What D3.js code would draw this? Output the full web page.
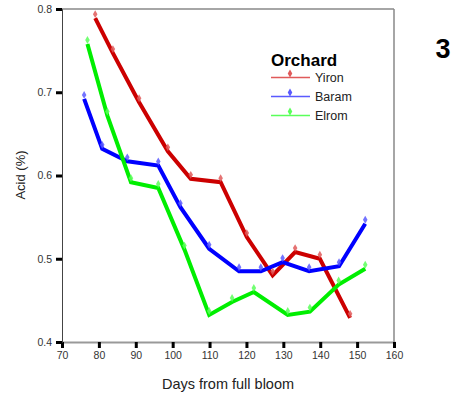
<!DOCTYPE html>
<html>
<head>
<meta charset="utf-8">
<script src="https://cdn.jsdelivr.net/npm/d3@7"></script>
<style>
  body { margin: 0; background: #fff; }
  svg { font-family: "Liberation Sans", Arial, sans-serif; }
</style>
</head>
<body>
<script>
// data
var series = ["Yiron", "Baram", "Elrom"];
var colors = ["#cc0000", "#0000ff", "#00ee00"];
var markColors = ["#e05a5a", "#5a5aff", "#5aff5a"];

var yironDays = [79, 83.8, 90.9, 98.7, 104.9, 113, 120.1, 127.1, 133.2, 139.9, 148.1];
var yironAcid = [0.789, 0.747, 0.688, 0.629, 0.596, 0.592, 0.526, 0.48, 0.508, 0.5, 0.429];

var baramDays = [76, 80.9, 87.7, 96.1, 102.1, 109.9, 118, 123.9, 129.8, 137, 145.1, 152.2];
var baramAcid = [0.692, 0.632, 0.617, 0.612, 0.562, 0.512, 0.485, 0.485, 0.496, 0.485, 0.491, 0.542];

var elromDays = [76.9, 82.3, 88.7, 96.1, 103.2, 109.9, 116.1, 122, 131.2, 137.2, 145, 152.2];
var elromAcid = [0.758, 0.672, 0.592, 0.585, 0.511, 0.4325, 0.448, 0.46, 0.4325, 0.4365, 0.469, 0.488];

var xTicks = [70, 80, 90, 100, 110, 120, 130, 140, 150, 160];
var yTicks = [0.4, 0.5, 0.6, 0.7, 0.8];

var width = 453, height = 396;
var margin = {left: 62, right: 59, top: 9, bottom: 54};
var w = width - margin.left - margin.right;
var h = height - margin.top - margin.bottom;

function zip(days, acid) {
    return days.map(function(d, i) { return {day: d, acid: acid[i]}; });
}
var data = [zip(yironDays, yironAcid), zip(baramDays, baramAcid), zip(elromDays, elromAcid)];

//SCALES
var xScale = d3.scaleLinear().domain([70, 160]).range([0, w]);
var yScale = d3.scaleLinear().domain([0.4, 0.8]).range([h, 0]);

var svg = d3.select("body").append("svg")
    .attr("width", width)
    .attr("height", height);

var chartGroup = svg.append("g").attr("transform", "translate(" + margin.left + "," + margin.top + ")");

// frame on top and right
chartGroup.append("line").attr("x1", 0).attr("x2", w).attr("y1", 0).attr("y2", 0)
    .attr("stroke", "#888").attr("stroke-width", 1.5);
chartGroup.append("line").attr("x1", w).attr("x2", w).attr("y1", 0).attr("y2", h)
    .attr("stroke", "#888").attr("stroke-width", 1.5);

// axes
var xAxis = chartGroup.append("g")
    .attr("transform", "translate(0," + h + ")")
    .call(d3.axisBottom(xScale).tickValues(xTicks).tickSize(6).tickPadding(4));
xAxis.select(".domain").attr("stroke", "#999").attr("stroke-width", 2);

var yAxis = chartGroup.append("g")
    .call(d3.axisLeft(yScale).tickValues(yTicks).tickFormat(d3.format(".1f")).tickSize(6).tickPadding(4));
yAxis.select(".domain").attr("stroke", "#444").attr("stroke-width", 1);

chartGroup.selectAll(".tick line").attr("stroke", "#000").attr("stroke-width", 3);
chartGroup.selectAll(".tick text")
    .attr("fill", "#333")
    .style("font-size", "10.5px")
    .style("font-family", "Liberation Sans, Arial, sans-serif");

// lines
var line = d3.line()
    .x(function(d) { return xScale(d.day); })
    .y(function(d) { return yScale(d.acid); });

chartGroup.selectAll("path.series")
    .data(data)
    .enter().append("path")
        .attr("class", "series")
        .attr("d", line)
        .attr("fill", "none")
        .attr("stroke", function(d, i) { return colors[i]; })
        .attr("stroke-width", 4)
        .attr("stroke-linejoin", "miter");

// markers sit a few px above the line vertices in the original
var sym = d3.symbol().type(d3.symbolDiamond).size(18);
data.forEach(function(s, i) {
    chartGroup.append("g")
        .attr("transform", "translate(0,-4)")
        .selectAll("path")
        .data(s)
        .enter().append("path")
            .attr("d", sym)
            .attr("transform", function(d) { return "translate(" + xScale(d.day) + "," + yScale(d.acid) + ")"; })
            .attr("fill", markColors[i])
            .attr("opacity", 0.85);
});

// legend
var legend = svg.append("g").attr("transform", "translate(271,0)");
legend.append("text")
    .attr("x", 0).attr("y", 66)
    .style("font-size", "17px").style("font-weight", "bold")
    .text("Orchard");
var legY = [77.5, 96.5, 115.5];
series.forEach(function(name, i) {
    legend.append("line")
        .attr("x1", 0).attr("x2", 39)
        .attr("y1", legY[i]).attr("y2", legY[i])
        .attr("stroke", markColors[i]).attr("stroke-width", 1.5);
    legend.append("path")
        .attr("d", sym)
        .attr("transform", "translate(19," + (legY[i] - 4) + ")")
        .attr("fill", markColors[i]);
    legend.append("text")
        .attr("x", 44).attr("y", legY[i] + 4.5)
        .style("font-size", "12.5px")
        .attr("fill", "#222")
        .text(name);
});

// panel number
svg.append("text")
    .attr("x", 443).attr("y", 58)
    .attr("text-anchor", "middle")
    .style("font-size", "27px").style("font-weight", "bold")
    .text("3");

// axis titles
svg.append("text")
    .attr("x", margin.left + w / 2).attr("y", 389)
    .attr("text-anchor", "middle")
    .style("font-size", "14.5px")
    .attr("fill", "#222")
    .text("Days from full bloom");

svg.append("text")
    .attr("transform", "translate(25,175) rotate(-90)")
    .attr("text-anchor", "middle")
    .style("font-size", "13px")
    .attr("fill", "#222")
    .text("Acid (%)");
</script>
</body>
</html>
